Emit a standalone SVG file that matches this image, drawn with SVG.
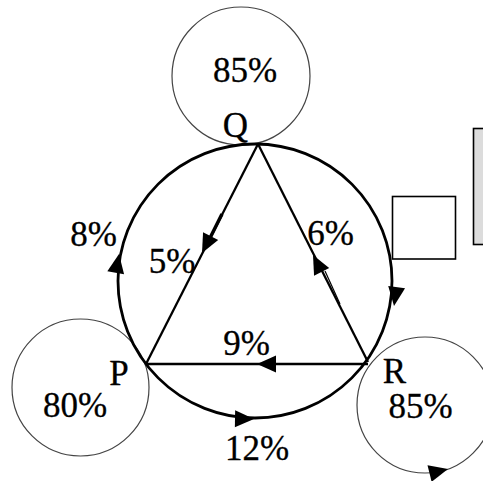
<svg xmlns="http://www.w3.org/2000/svg" width="483" height="481" viewBox="0 0 483 481">
<style>
.thin{fill:none;stroke:#444;stroke-width:1.2}
.big{fill:none;stroke:#000;stroke-width:2.8}
.edge{fill:none;stroke:#000;stroke-width:2.3}
.lbl{font-family:"Liberation Serif","Times New Roman",serif;font-size:35px;fill:#000;stroke:#000;stroke-width:0.3}
.ah{fill:#000}
</style>
<defs>
<path id="ah" d="M0,0 L-19,-8.5 L-19,8.5 Z"/>
</defs>
<rect width="483" height="481" fill="#fff"/>
<g id="box1"><rect x="392.5" y="196.5" width="63" height="62.5" fill="#fff" stroke="#000" stroke-width="1.6"/></g>
<g id="box2"><rect x="473.5" y="128.5" width="20" height="116" fill="#dcdcdc" stroke="#000" stroke-width="1.6"/></g>
<g id="loopQ"><circle cx="241" cy="76" r="69" class="thin"/><text class="lbl" x="245" y="82" text-anchor="middle">85%</text></g>
<g id="loopP"><circle cx="80.5" cy="387.5" r="68.5" class="thin"/><text class="lbl" x="75" y="417" text-anchor="middle">80%</text></g>
<g id="loopR"><circle cx="425" cy="405" r="68" class="thin"/><text class="lbl" x="420.5" y="418" text-anchor="middle">85%</text><use href="#ah" class="ah" transform="translate(448,469) rotate(-14)"/></g>
<g id="connectors">
<circle cx="255" cy="281" r="137" class="big"/>
<line x1="258" y1="144" x2="146" y2="364" class="edge"/>
<line x1="222" y1="214" x2="210" y2="238" stroke="#000" stroke-width="3.5"/>
<line x1="258" y1="144" x2="368" y2="362" class="edge"/>
<line x1="322" y1="272" x2="337" y2="305" stroke="#000" stroke-width="1.2" transform="translate(3,-1)"/>
<line x1="146" y1="364" x2="368" y2="364" class="edge"/>
<use href="#ah" class="ah" transform="translate(202,253) rotate(117)"/>
<use href="#ah" class="ah" transform="translate(313,255) rotate(243)"/>
<use href="#ah" class="ah" transform="translate(257,364) rotate(180)"/>
<use href="#ah" class="ah" transform="translate(119,254) rotate(-80)"/>
<use href="#ah" class="ah" transform="translate(394,306) rotate(98)"/>
<use href="#ah" class="ah" transform="translate(254,419) rotate(1)"/>
</g>
<g id="Q"><text class="lbl" x="235.5" y="137" text-anchor="middle">Q</text></g>
<g id="P"><text class="lbl" x="119" y="385" text-anchor="middle">P</text></g>
<g id="R"><text class="lbl" x="394.5" y="383" text-anchor="middle">R</text></g>
<g id="labels">
<text class="lbl" x="93.5" y="246" text-anchor="middle">8%</text>
<text class="lbl" x="172" y="273" text-anchor="middle">5%</text>
<text class="lbl" x="330.5" y="245" text-anchor="middle">6%</text>
<text class="lbl" x="246.5" y="355" text-anchor="middle">9%</text>
<text class="lbl" x="257" y="460" text-anchor="middle">12%</text>
</g>
</svg>
